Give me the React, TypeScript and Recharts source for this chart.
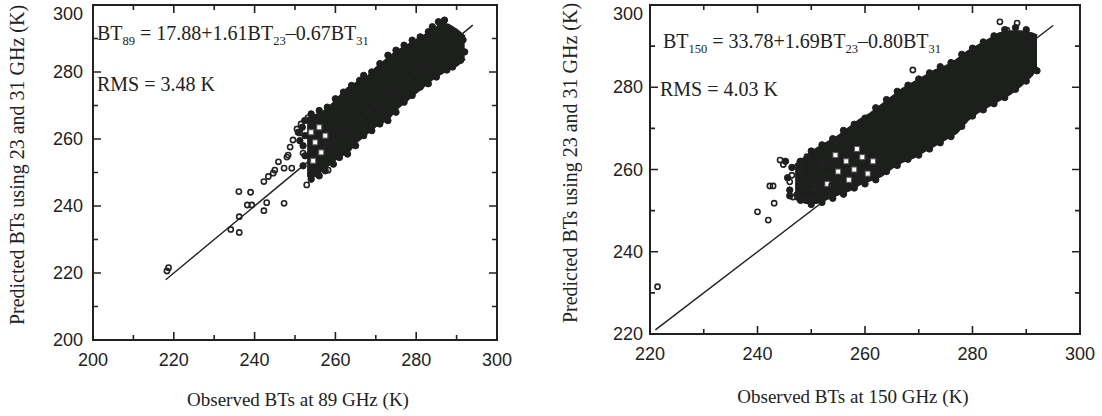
import React from 'react'
import {
  ComposedChart,
  XAxis,
  YAxis,
  Area,
  Line,
  Scatter,
  ReferenceArea,
} from 'recharts'

// --- 89 GHz panel ---
const ticks89 = [200, 210, 220, 230, 240, 250, 260, 270, 280, 290, 300]
const cloud89X = [253, 255, 257, 259, 261, 263, 265, 268, 270, 273, 275, 278, 280, 283, 285, 286, 288, 290, 292]
const cloud89Low = [249, 249, 251, 253, 255, 256, 259, 262, 264, 266, 269, 272, 274, 277, 279, 279.5, 281, 282, 284]
const cloud89High = [266, 267, 268, 270, 272.5, 275, 276.5, 278.5, 281, 284, 286, 288, 289.5, 291.5, 293, 294.5, 294, 292.5, 290.5]
const fit89 = [218, 294]
const edges89: [number, number][] = [
  [254, 267.5], [256, 268.5], [258, 269.5], [260, 272], [262, 274], [264, 276], [266, 277.5], [267, 279],
  [269, 280], [271, 282.5], [273, 285], [275, 286.5], [277, 288], [279, 289.5], [281, 290.5], [283, 292],
  [284, 293.5], [285.5, 295], [287, 295.5],
  [254, 248], [256, 249], [257.5, 250.5], [259.5, 252.5], [261, 254.5], [263, 255.5], [265, 258], [267, 261],
  [269, 262.5], [271, 264.5], [273, 265.5], [275, 268], [277, 271], [279, 273], [281, 275.5], [283, 276.5],
  [285, 278.5], [287.6, 280.6], [289, 281.5], [291, 283.5], [292, 286], [291.6, 289.6],
  [252, 252], [252.5, 255], [252, 258], [252.5, 261], [251.8, 263.5], [252.4, 265.5], [250.8, 262], [251.2, 259.5],
]
const outliers89: [number, number][] = [
  [218.3, 220.6], [218.7, 221.6], [234.1, 233], [236.2, 232.1], [236.2, 236.8], [236.1, 244.3], [239, 244.1],
  [238.2, 240.3], [239.3, 240.3], [242.3, 238.6], [243, 241], [247.3, 240.8], [242.3, 247.3], [243.4, 248.8],
  [244.6, 249.8], [245, 250.7], [245.9, 253.2], [247.3, 251.3], [249.2, 251.3], [252.9, 246.3], [258.2, 250.7],
  [248.3, 255.2], [248, 254.6], [249.5, 259.7], [251.2, 261.8], [248.8, 257.6], [252, 255.8], [253.2, 266.3],
  [250.5, 263], [251.5, 264.5],
]
const holes89: [number, number][] = [
  [255, 259], [256.5, 256], [254.5, 253.5], [257.5, 261], [256, 263.5], [254, 262],
]

// --- 150 GHz panel ---
const ticks150 = [220, 230, 240, 250, 260, 270, 280, 290, 300]
const cloud150X = [247, 249, 251, 253, 255, 257, 259, 261, 263, 265, 267, 269, 271, 273, 275, 277, 279, 281, 283, 285, 287, 289, 291, 292]
const cloud150Low = [253, 252, 252, 253, 254, 255, 256.5, 257.5, 258.5, 260.5, 262, 263, 264.5, 266, 267.5, 269, 272, 274, 275.5, 277, 278.5, 280.5, 283, 285]
const cloud150High = [261, 263, 265, 266.5, 268, 270, 272, 273.5, 275.5, 277.5, 279.5, 281, 282.5, 284, 285, 286.5, 288.5, 290, 291.5, 293, 293.5, 293.5, 293, 292.5]
const fit150 = [221, 295]
const edges150: [number, number][] = [
  [248, 262], [250, 264.5], [252, 266], [254, 267.5], [256, 269.5], [258, 271], [260, 272.5], [262, 275],
  [264, 277], [266, 279], [268, 280.5], [270, 282], [272, 283.5], [274, 285], [276, 286], [278, 288],
  [280, 289.5], [282, 291], [284, 292.5], [286, 294], [288, 294.5], [290, 294],
  [248, 252.5], [250, 251.5], [252, 252], [254, 253], [256, 254], [258, 255.5], [260, 256.5], [262, 257.5],
  [264, 259.5], [266, 261], [268, 262.5], [270, 263.5], [272, 265], [274, 266.5], [276, 268], [278, 270.5],
  [280, 273], [282, 274.5], [284, 276], [286, 277.5], [288, 279.5], [290, 281.5], [292, 284],
  [246, 255], [245.6, 258], [246.4, 260.5], [245.2, 262], [246, 253.6],
]
const outliers150: [number, number][] = [
  [221.4, 231.5], [240, 249.7], [242, 247.7], [242.3, 256], [242.9, 256], [243.1, 251.8], [244.2, 262.3],
  [244.8, 261.2], [246, 257], [246.6, 253.3], [247.9, 261.9], [247.3, 253.8], [248.5, 253], [250.1, 252.6],
  [246.4, 258.6], [248.2, 259.4], [249.2, 263.1], [251, 264.3], [251.9, 261.1], [252.9, 258.2], [253.8, 256.2],
  [250.4, 255.8], [254.7, 267.2], [285.1, 295.9], [286.4, 293.9], [288.3, 295.6], [268.9, 284.2],
]
const holes150: [number, number][] = [
  [256.5, 262], [258, 260], [259.5, 263], [257, 257.5], [260.5, 259], [255, 259.5], [253, 256.5], [261.5, 262],
  [254.5, 263.5], [258.5, 265],
]

const INK = '#222'
const CLOUD = '#1d1f1d'
const TICK_FONT = '"Liberation Sans", Arial, sans-serif'
const SERIF = '"Liberation Serif", "Times New Roman", serif'

function buildTable(xs: number[], lows: number[], highs: number[], fit: number[]) {
  const rows: Record<string, unknown>[] = xs.map((x, i) => ({ x, range: [lows[i], highs[i]] }))
  fit.forEach(v => rows.push({ x: v, fit: v }))
  return rows.sort((a, b) => (a.x as number) - (b.x as number))
}

const toPts = (arr: [number, number][]) => arr.map(([x, y]) => ({ x, y }))

function xTick(plotH: number) {
  return (props: any) => {
    const x = Number(props.x)
    const y = Number(props.y)
    const v = props.payload.value
    const major = v % 20 === 0
    const len = major ? 8 : 5
    const d = `M${x},${y}V${y - len}M${x},${y - plotH}V${y - plotH + len}`
    return (
      <g>
        <path d={d} stroke={INK} strokeWidth={1.6} fill="none" />
        {major && (
          <text x={x} y={y + 20} textAnchor="middle" dominantBaseline="central" fill={INK}
            style={{ fontFamily: TICK_FONT, fontSize: 18 }}>{v}</text>
        )}
      </g>
    )
  }
}

function yTick(plotW: number, gap: number) {
  return (props: any) => {
    const x = Number(props.x)
    const y = Number(props.y)
    const v = props.payload.value
    const major = v % 20 === 0
    const len = major ? 8 : 5
    const d = `M${x},${y}H${x + len}M${x + plotW},${y}H${x + plotW - len}`
    return (
      <g>
        <path d={d} stroke={INK} strokeWidth={1.6} fill="none" />
        {major && (
          <text x={x - gap} y={Math.max(y, 14)} textAnchor="end" dominantBaseline="central" fill={INK}
            style={{ fontFamily: TICK_FONT, fontSize: 18 }}>{v}</text>
        )}
      </g>
    )
  }
}

const dot = (r: number) => (p: any) => (
  <circle cx={p.cx} cy={p.cy} r={r} fill={CLOUD} stroke={CLOUD} strokeWidth={1} />
)
const ring = (p: any) => (
  <circle cx={p.cx} cy={p.cy} r={2.6} fill="none" stroke={INK} strokeWidth={1.6} />
)
const hole = (p: any) => (
  <rect x={p.cx - 2.5} y={p.cy - 2.5} width={5} height={5} fill="#fff" stroke="#555" strokeWidth={1} />
)

interface PanelProps {
  width: number
  height: number
  plot: { top: number; right: number; bottom: number; left: number }
  domain: [number, number]
  ticks: number[]
  table: Record<string, unknown>[]
  edges: [number, number][]
  outliers: [number, number][]
  holes: [number, number][]
  labelGap: number
}

function Panel({ width, height, plot, domain, ticks, table, edges, outliers, holes, labelGap }: PanelProps) {
  const plotW = width - plot.left - plot.right
  const plotH = height - plot.top - plot.bottom
  // axes take 1px each (a zero-size axis is not drawn)
  const margin = { top: plot.top, right: plot.right, bottom: plot.bottom - 1, left: plot.left - 1 }
  return (
    <ComposedChart width={width} height={height} data={table} margin={margin}>
      <ReferenceArea x1={domain[0]} x2={domain[1]} y1={domain[0]} y2={domain[1]}
        fill="none" fillOpacity={0} stroke={INK} strokeWidth={2} />
      <Area dataKey="range" type="linear" stroke={CLOUD} strokeWidth={3} fill={CLOUD} fillOpacity={1}
        isAnimationActive={false} dot={false} activeDot={false} />
      <Scatter data={toPts(edges)} dataKey="y" shape={dot(3.2)} isAnimationActive={false} />
      <Scatter data={toPts(holes)} dataKey="y" shape={hole} isAnimationActive={false} />
      <Line dataKey="fit" type="linear" stroke={INK} strokeWidth={1.4} dot={false} activeDot={false}
        connectNulls isAnimationActive={false} />
      <Scatter data={toPts(outliers)} dataKey="y" shape={ring} isAnimationActive={false} />
      <XAxis type="number" dataKey="x" domain={domain} ticks={ticks} interval={0} allowDataOverflow
        height={1} tickSize={0} tickMargin={0} tickLine={false}
        axisLine={{ stroke: INK, strokeWidth: 2 }} tick={xTick(plotH)} />
      <YAxis type="number" domain={domain} ticks={ticks} interval={0} allowDataOverflow
        width={1} tickSize={0} tickMargin={0} tickLine={false}
        axisLine={{ stroke: INK, strokeWidth: 2 }} tick={yTick(plotW, labelGap)} />
    </ComposedChart>
  )
}

export default function App() {
  const table89 = buildTable(cloud89X, cloud89Low, cloud89High, fit89)
  const table150 = buildTable(cloud150X, cloud150Low, cloud150High, fit150)
  const sub = { fontSize: 12.5 }
  return (
    <div style={{ position: 'absolute', left: 0, top: 0, width: 1102, height: 416, background: '#fff', overflow: 'hidden' }}>
      <div style={{ position: 'absolute', left: 0, top: 0 }}>
        <Panel width={520} height={416} plot={{ top: 5, right: 23, bottom: 76, left: 93 }}
          domain={[200, 300]} ticks={ticks89} table={table89} edges={edges89} outliers={outliers89}
          holes={holes89} labelGap={10} />
      </div>
      <div style={{ position: 'absolute', left: 560, top: 0 }}>
        <Panel width={542} height={416} plot={{ top: 5, right: 22, bottom: 82, left: 90 }}
          domain={[220, 300]} ticks={ticks150} table={table150} edges={edges150} outliers={outliers150}
          holes={holes150} labelGap={7} />
      </div>
      <svg width={1102} height={416} style={{ position: 'absolute', left: 0, top: 0, pointerEvents: 'none' }}>
        <g fill={INK} style={{ fontFamily: SERIF, fontSize: 20 }}>
          <text x={97} y={40}>
            BT<tspan dy={5} style={sub}>89</tspan>
            <tspan dy={-5}> = 17.88+1.61BT</tspan><tspan dy={5} style={sub}>23</tspan>
            <tspan dy={-5}>–0.67BT</tspan><tspan dy={5} style={sub}>31</tspan>
          </text>
          <text x={97} y={91}>RMS  = 3.48 K</text>
          <text x={663} y={48}>
            BT<tspan dy={5} style={sub}>150</tspan>
            <tspan dy={-5}> = 33.78+1.69BT</tspan><tspan dy={5} style={sub}>23</tspan>
            <tspan dy={-5}>–0.80BT</tspan><tspan dy={5} style={sub}>31</tspan>
          </text>
          <text x={660} y={96}>RMS = 4.03 K</text>
        </g>
        <g fill={INK} style={{ fontFamily: SERIF, fontSize: 19 }} textAnchor="middle">
          <text x={298} y={406}>Observed BTs at 89 GHz (K)</text>
          <text x={853} y={403}>Observed BTs at 150 GHz (K)</text>
        </g>
        <g fill={INK} style={{ fontFamily: SERIF, fontSize: 20 }} textAnchor="middle">
          <text transform="translate(24,165) rotate(-90)">Predicted BTs using 23 and 31 GHz (K)</text>
          <text transform="translate(577,163) rotate(-90)">Predicted BTs using 23 and 31 GHz (K)</text>
        </g>
      </svg>
    </div>
  )
}
